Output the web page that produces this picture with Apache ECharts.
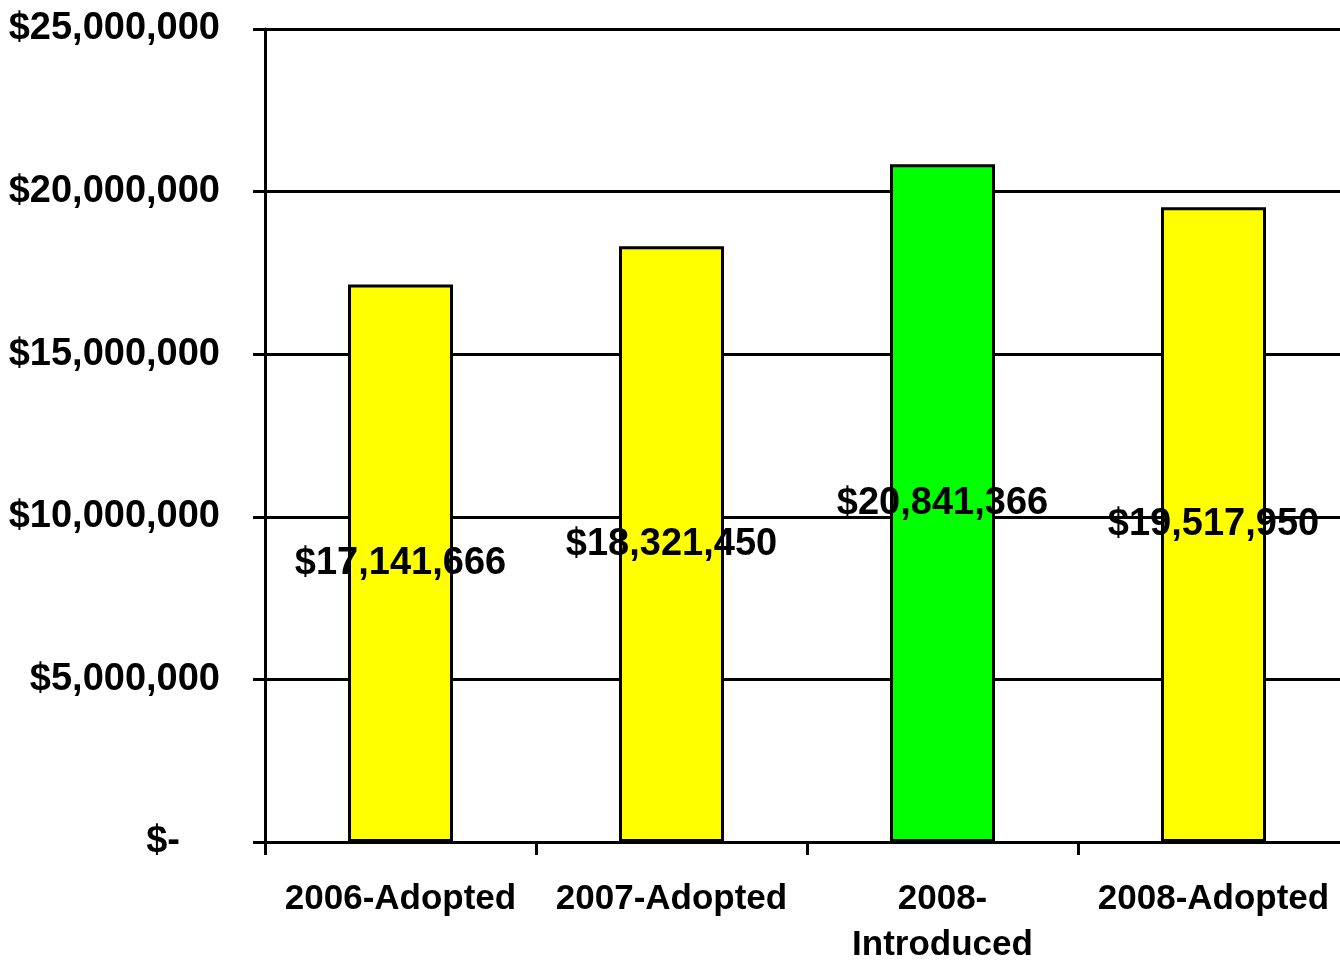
<!DOCTYPE html>
<html>
<head>
<meta charset="utf-8">
<script src="https://cdn.jsdelivr.net/npm/echarts@6/dist/echarts.min.js"></script>
<style>
html,body{margin:0;padding:0;background:#fff;}
#chart{width:1340px;height:960px;}
</style>
</head>
<body>
<div id="chart"></div>
<script>
const categories = ['2006-Adopted', '2007-Adopted', '2008-\nIntroduced', '2008-Adopted'];
const budgetValues = [17141666, 18321450, 20841366, 19517950];
const yTickValues = [0, 5000000, 10000000, 15000000, 20000000, 25000000];

const barColors = ['#FFFF00', '#FFFF00', '#00FF00', '#FFFF00'];
const FONT = '"Liberation Sans", Arial, sans-serif';

function money(v) {
  return '$' + Math.round(v).toLocaleString('en-US');
}

const chart = echarts.init(document.getElementById('chart'), null, {renderer: 'canvas'});
chart.setOption({
  animation: false,
  backgroundColor: '#ffffff',
  grid: {left: 265, top: 29, bottom: 118, right: -9, containLabel: false, outerBoundsMode: 'none'},
  xAxis: {
    type: 'category',
    data: categories,
    axisLine: {show: true, lineStyle: {color: '#000', width: 3}},
    axisTick: {show: true, length: 13, lineStyle: {color: '#000', width: 3}, alignWithLabel: false},
    axisLabel: {
      color: '#000', fontFamily: FONT, fontWeight: 'bold', fontSize: 35,
      margin: 34, lineHeight: 46, interval: 0
    },
    splitLine: {show: false}
  },
  yAxis: {
    type: 'value',
    min: yTickValues[0],
    max: yTickValues[yTickValues.length - 1],
    interval: yTickValues[1] - yTickValues[0],
    axisLine: {show: true, lineStyle: {color: '#000', width: 3}},
    axisTick: {show: true, length: 12, lineStyle: {color: '#000', width: 3}},
    splitLine: {show: true, lineStyle: {color: '#000', width: 3}},
    axisLabel: {
      color: '#000', fontFamily: FONT, fontWeight: 'bold', fontSize: 38,
      margin: 45,
      formatter: function (v) { return v === 0 ? '{z|$-}' : money(v); },
      rich: {z: {fontFamily: FONT, fontSize: 38, color: '#000', padding: [0, 40, 0, 0]}}
    }
  },
  series: [{
    type: 'bar',
    data: budgetValues,
    barWidth: 105,
    itemStyle: {
      color: function (p) { return barColors[p.dataIndex]; },
      borderColor: '#000',
      borderWidth: 3
    },
    label: {
      show: true,
      position: 'inside',
      color: '#000',
      fontFamily: FONT,
      fontWeight: 'bold',
      fontSize: 38,
      formatter: function (p) { return money(p.value); }
    }
  }]
});
</script>
</body>
</html>
